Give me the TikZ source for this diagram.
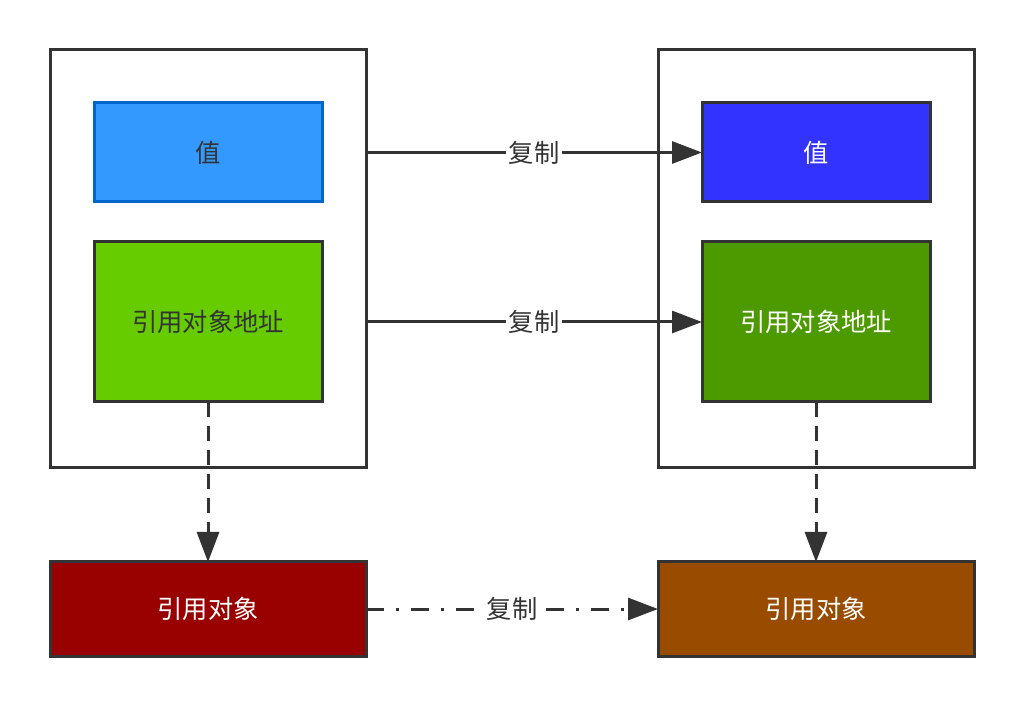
\documentclass[tikz,border=0pt]{standalone}
\usepackage{fontspec}
\setmainfont{Noto Sans CJK SC}
\usetikzlibrary{positioning}
\usetikzlibrary{arrows.meta}

\definecolor{linegray}{HTML}{333333}
\definecolor{valblue}{HTML}{3399FF}
\definecolor{valborder}{HTML}{0066CC}
\definecolor{valdeep}{HTML}{3333FF}
\definecolor{addrgreen}{HTML}{66CC00}
\definecolor{addrdeep}{HTML}{4D9900}
\definecolor{objred}{HTML}{990000}
\definecolor{objbrown}{HTML}{994C00}

\begin{document}
\begin{tikzpicture}[>={Triangle[length=0.75cm,width=0.55cm]},line width=0.075cm,
	font=\fontsize{18}{22}\selectfont,text=linegray,
	box/.style={draw=linegray,minimum width=5.7cm,outer sep=0pt,inner sep=0pt},
	frame/.style={draw=linegray,minimum width=7.9cm,outer sep=0pt,inner sep=0pt},
	copylbl/.style={fill=white,inner sep=2pt,text=linegray}]
	\useasboundingbox (0,0) rectangle (25.6,-17.65);

	% left side
	\node [frame,minimum height=10.45cm] at (5.2,-6.475) (outer_l) {};
	\node [box,minimum height=2.475cm,fill=valblue,draw=valborder,below=1.325cm of outer_l.north] (val_l) {值};
	\node [box,minimum height=4cm,fill=addrgreen,below=1cm of val_l] (addr_l) {引用对象地址};
	\node [frame,minimum height=2.35cm,fill=objred,text=white,below=2.35cm of outer_l] (obj_l) {引用对象};

	% right side
	\node [frame,minimum height=10.45cm,right=7.3cm of outer_l] (outer_r) {};
	\node [box,minimum height=2.475cm,fill=valdeep,text=white,below=1.325cm of outer_r.north] (val_r) {值};
	\node [box,minimum height=4cm,fill=addrdeep,text=white,below=1cm of val_r] (addr_r) {引用对象地址};
	\node [frame,minimum height=2.35cm,fill=objbrown,text=white,below=2.35cm of outer_r] (obj_r) {引用对象};

	% copies
	\draw [->,draw=linegray] (outer_l.east |- val_l.east) -- node[copylbl,pos=0.5] {复制} (val_r.west);
	\draw [->,draw=linegray] (outer_l.east |- addr_l.east) -- node[copylbl,pos=0.5] {复制} (addr_r.west);
	\draw [->,draw=linegray,dash pattern=on 0.45cm off 0.3cm on 0.075cm off 0.3cm] (obj_l.east) -- node[copylbl] {复制} (obj_r.west);

	% references
	\draw [->,draw=linegray,dash pattern=on 0.38cm off 0.22cm] (addr_l.south) -- (obj_l.north);
	\draw [->,draw=linegray,dash pattern=on 0.38cm off 0.22cm] (addr_r.south) -- (obj_r.north);
\end{tikzpicture}
\end{document}
